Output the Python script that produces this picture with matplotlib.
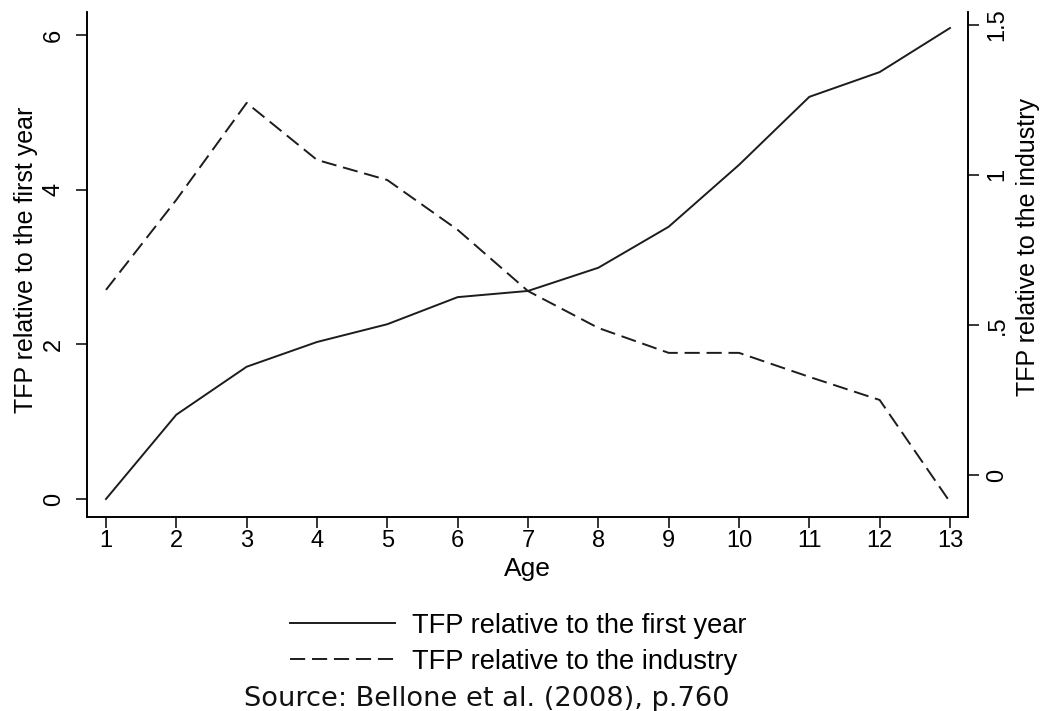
import matplotlib
matplotlib.use('Agg')
import matplotlib.pyplot as plt
from matplotlib.lines import Line2D

# data
age = [1, 2, 3, 4, 5, 6, 7, 8, 9, 10, 11, 12, 13]
tfp_first_year = [0.0, 1.09, 1.71, 2.03, 2.26, 2.61, 2.69, 2.99, 3.52, 4.32, 5.20, 5.52, 6.09]
tfp_industry = [0.617, 0.917, 1.24, 1.05, 0.983, 0.817, 0.613, 0.49, 0.407, 0.407, 0.327, 0.25, -0.09]

left_ticks = [0, 2, 4, 6]
right_ticks = [0, 0.5, 1, 1.5]
right_ticklabels = ['0', '.5', '1', '1.5']

label_first = 'TFP relative to the first year'
label_industry = 'TFP relative to the industry'
source_text = 'Source: Bellone et al. (2008), p.760'

plt.rcParams['font.family'] = ['Liberation Sans', 'DejaVu Sans']
line_col = '#1c1c1c'

W, H = 1044, 711
fig = plt.figure(figsize=(W / 100, H / 100), dpi=100)
# axes box in pixels: left 87, right 968, top 12, bottom 517
ax = fig.add_axes([87 / W, 1 - 517 / H, (968 - 87) / W, (517 - 12) / H])
ax2 = ax.twinx()

ax.plot(age, tfp_first_year, color=line_col, lw=1.4, solid_joinstyle='round')
ax2.plot(age, tfp_industry, color=line_col, lw=1.4, dashes=(7.8, 3.5))

ax.set_xlim(0.73, 13.256)
ax.set_ylim(-0.233, 6.297)
ax2.set_ylim(-0.14, 1.543)

ax.set_xticks(age)
ax.set_yticks(left_ticks)
ax2.set_yticks(right_ticks)
ax2.set_yticklabels(right_ticklabels)

for a in (ax, ax2):
    a.spines['top'].set_visible(False)
    for s in a.spines.values():
        s.set_linewidth(1.2)
    a.tick_params(direction='out', length=7.9, width=1.1, colors='black')

ax.tick_params(axis='x', labelsize=17, pad=1.5)
ax.tick_params(axis='y', labelsize=17, pad=8)
ax2.tick_params(axis='y', labelsize=17, pad=5.4)
for t in ax.get_yticklabels():
    t.set_rotation(90)
    t.set_va('center')
for t in ax2.get_yticklabels():
    t.set_rotation(90)
    t.set_va('center')

ax.set_xlabel('Age', fontsize=19)
ax.xaxis.set_label_coords(0.5, -0.08)
ax.set_ylabel(label_first, fontsize=18)
ax.yaxis.set_label_coords(-0.0556, 0.509)
ax2.set_ylabel(label_industry, fontsize=18)
ax2.yaxis.set_label_coords(1.055, 0.535)

handles = [Line2D([], [], color=line_col, lw=1.4),
           Line2D([], [], color=line_col, lw=1.4, dashes=(7.8, 3.5))]
fig.legend(handles, [label_first, label_industry], loc='upper left',
           bbox_to_anchor=(290 / W, 1 - 613 / H), frameon=False, fontsize=19.6,
           borderpad=0, borderaxespad=0, handlelength=3.86, handletextpad=0.62,
           labelspacing=0.36)

fig.text(487 / W, 1 - 706 / H, source_text, ha='center', va='baseline',
         fontsize=19.6, family='DejaVu Sans', color='#111111')

fig.savefig('out.png', dpi=100)
